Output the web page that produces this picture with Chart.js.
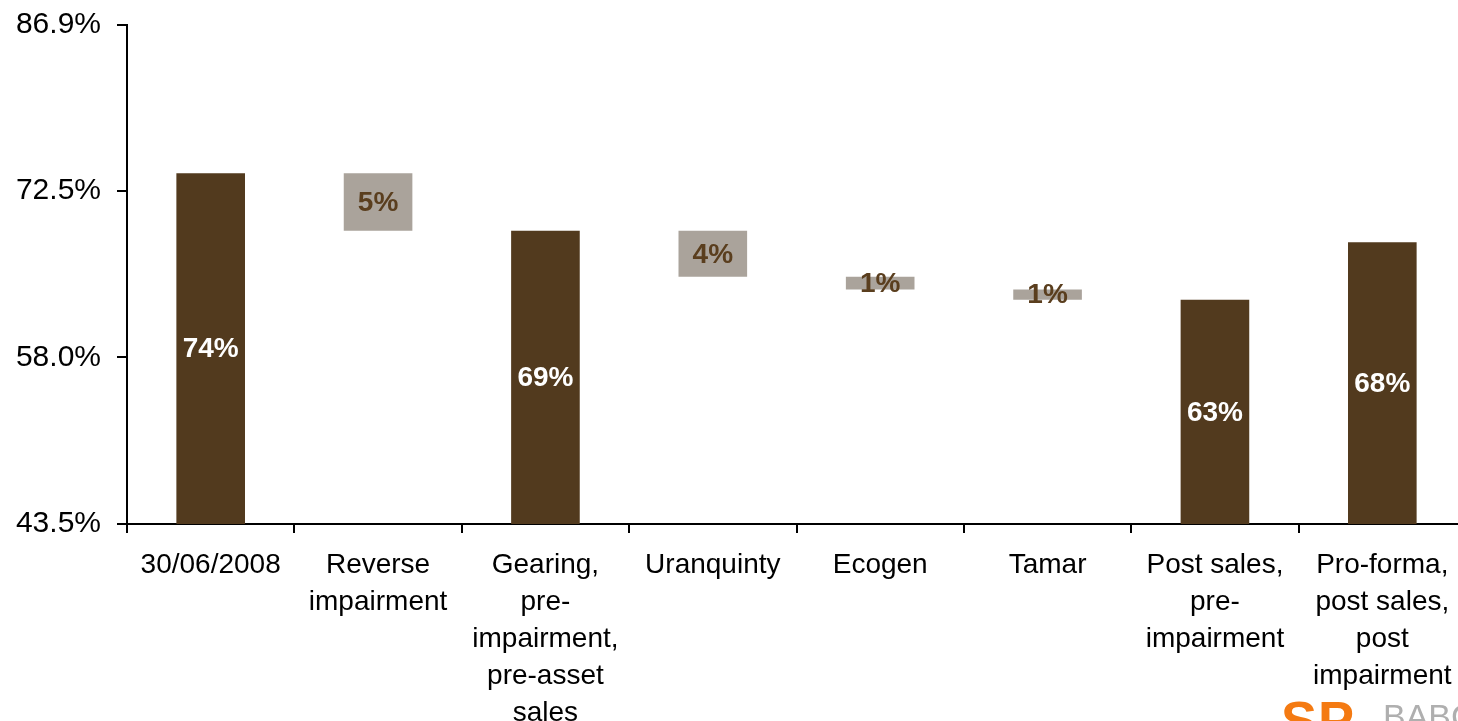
<!DOCTYPE html>
<html>
<head>
<meta charset="utf-8">
<script src="https://cdn.jsdelivr.net/npm/chart.js@4.4.1/dist/chart.umd.min.js"></script>
<style>
  html, body { margin: 0; padding: 0; background: #fff; overflow: hidden; }
  #wrap { position: relative; width: 1466px; height: 721px; overflow: hidden; }
  #c { position: absolute; left: 0; top: -9px; }
  #logo1 { position: absolute; left: 1281px; top: 693px; font: bold 54px "Liberation Sans", Arial, sans-serif; color: #F47A12; letter-spacing: 1px; line-height: 1; }
  #logo2 { position: absolute; left: 1383px; top: 699px; font: 34px "Liberation Sans", Arial, sans-serif; color: #AFAFAF; line-height: 1; }
</style>
</head>
<body>
<div id="wrap">
  <canvas id="c" width="1466" height="730"></canvas>
  <div id="logo1">SP</div>
  <div id="logo2">BABCOCK</div>
</div>
<script>
const categories = [
  ['30/06/2008'],
  ['Reverse', 'impairment'],
  ['Gearing,', 'pre-', 'impairment,', 'pre-asset', 'sales'],
  ['Uranquinty'],
  ['Ecogen'],
  ['Tamar'],
  ['Post sales,', 'pre-', 'impairment'],
  ['Pro-forma,', 'post sales,', 'post', 'impairment']
];
const barFrom = [43.5, 74.0, 43.5, 69.0, 65.0, 63.9, 43.5, 43.5];
const barTo   = [74.0, 69.0, 69.0, 65.0, 63.9, 63.0, 63.0, 68.0];
const barKind = ['total', 'step', 'total', 'step', 'step', 'step', 'total', 'total'];
const barLabels = ['74%', '5%', '69%', '4%', '1%', '1%', '63%', '68%'];
const yTicks = [43.5, 58.0, 72.5, 86.9];
const yTickLabels = ['43.5%', '58.0%', '72.5%', '86.9%'];

const DARK = '#523A1E';
const GREY = '#AAA39B';

const labelPlugin = {
  id: 'barLabels',
  afterDatasetsDraw(chart) {
    const ctx = chart.ctx;
    const meta = chart.getDatasetMeta(0);
    ctx.save();
    ctx.font = 'bold 28px "Liberation Sans", Arial, sans-serif';
    ctx.textAlign = 'center';
    ctx.textBaseline = 'middle';
    meta.data.forEach((el, i) => {
      const p = el.getProps(['x', 'y', 'base'], true);
      ctx.fillStyle = barKind[i] === 'total' ? '#FFFFFF' : '#5A3E1E';
      ctx.fillText(barLabels[i], p.x, (p.y + p.base) / 2 + 1);
    });
    ctx.restore();
  }
};

new Chart(document.getElementById('c'), {
  type: 'bar',
  data: {
    labels: categories,
    datasets: [{
      data: barFrom.map((f, i) => [f, barTo[i]]),
      backgroundColor: barKind.map(k => k === 'total' ? DARK : GREY),
      borderWidth: 0,
      barPercentage: 0.82,
      categoryPercentage: 0.5
    }]
  },
  options: {
    responsive: false,
    animation: false,
    layout: { padding: { top: 17, left: 0, right: 0, bottom: 0 } },
    plugins: { legend: { display: false }, tooltip: { enabled: false } },
    scales: {
      x: {
        grid: { drawOnChartArea: false, offset: true, tickLength: 9, color: '#000', lineWidth: 2 },
        border: { color: '#000', width: 2 },
        ticks: {
          color: '#000',
          font: { family: '"Liberation Sans", Arial, sans-serif', size: 28, lineHeight: 1.32 },
          padding: 14,
          maxRotation: 0,
          autoSkip: false
        },
        afterFit(scale) { scale.height = 197; }
      },
      y: {
        min: 43.5,
        max: 86.9,
        grid: { drawOnChartArea: false, tickLength: 10, color: '#000', lineWidth: 2 },
        border: { color: '#000', width: 2 },
        afterBuildTicks(scale) { scale.ticks = yTicks.map(v => ({ value: v })); },
        ticks: {
          color: '#000',
          font: { family: '"Liberation Sans", Arial, sans-serif', size: 30 },
          padding: 16,
          callback(value, index) { return yTickLabels[index]; }
        },
        afterFit(scale) { scale.width = 127; }
      }
    }
  },
  plugins: [labelPlugin]
});
</script>
</body>
</html>
